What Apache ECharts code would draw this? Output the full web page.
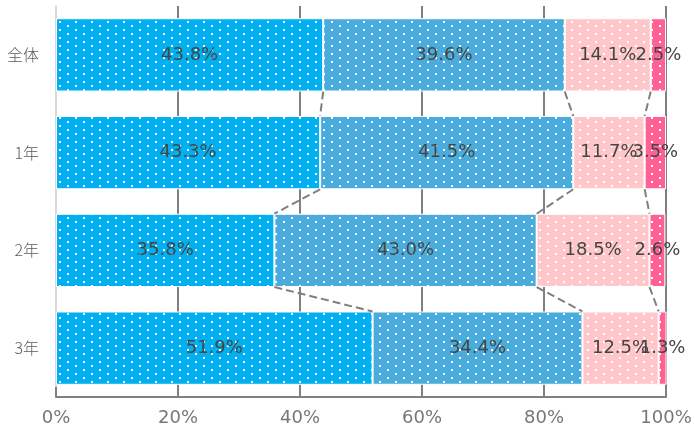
<!DOCTYPE html>
<html><head><meta charset="utf-8">
<script src="https://cdn.jsdelivr.net/npm/echarts@6/dist/echarts.min.js"></script>
<style>html,body{margin:0;padding:0;background:#fff}#c{width:695px;height:428px}</style>
</head><body><div id="c"></div>
<script>
const categories = ['全体', '1年', '2年', '3年'];
const s1 = [43.8, 43.3, 35.8, 51.9];
const s2 = [39.6, 41.5, 43.0, 34.4];
const s3 = [14.1, 11.7, 18.5, 12.5];
const s4 = [2.5, 3.5, 2.6, 1.3];
const xTicks = [0, 20, 40, 60, 80, 100];
const seriesValues = [s1, s2, s3, s4];
const colors = ['#00b0f0', '#4aacdc', '#ffc7c9', '#ff6194'];

function makePattern(color) {
  const c = document.createElement('canvas');
  c.width = 16; c.height = 8;
  const g = c.getContext('2d');
  g.fillStyle = color; g.fillRect(0, 0, 16, 8);
  g.fillStyle = '#ffffff';
  g.fillRect(3, 1, 2, 2);
  g.fillRect(11, 5, 2, 2);
  return { image: c, repeat: 'repeat' };
}

const cum = categories.map((_, i) => {
  let acc = 0; const out = [];
  for (let k = 0; k < 3; k++) { acc += seriesValues[k][i]; out.push(acc); }
  return out;
});
const connData = [];
for (let i = 0; i < categories.length - 1; i++) {
  for (let k = 0; k < 3; k++) connData.push([cum[i][k], i, cum[i + 1][k]]);
}

const BAR = 0.75;
const chart = echarts.init(document.getElementById('c'));
const barSeries = seriesValues.map((vals, k) => ({
  type: 'bar', stack: 'all', data: vals, barWidth: (BAR * 100) + '%',
  itemStyle: { color: makePattern(colors[k]), borderColor: '#ffffff', borderWidth: 1 },
  label: {
    show: true, position: 'inside', formatter: p => p.value.toFixed(1) + '%',
    color: '#454545', fontSize: 18, fontFamily: 'DejaVu Sans'
  },
  z: 3
}));
chart.setOption({
  animation: false,
  grid: { left: 56, right: 29, top: 6, bottom: 31, containLabel: false },
  xAxis: {
    type: 'value', min: 0, max: 100, interval: 20,
    axisLine: { show: true, lineStyle: { color: '#808080', width: 2 } },
    axisTick: { show: true, inside: true, length: 10, lineStyle: { color: '#808080', width: 2 } },
    splitLine: { show: true, lineStyle: { color: '#808080', width: 2 } },
    axisLabel: { formatter: v => v + '%', color: '#777777', fontSize: 18, fontFamily: 'DejaVu Sans', margin: 12 }
  },
  yAxis: {
    type: 'category', data: categories, inverse: true,
    axisLine: { show: true, lineStyle: { color: '#d9d9d9', width: 2 } },
    axisTick: { show: false },
    axisLabel: { color: '#595959', fontSize: 16, fontFamily: 'Noto Sans CJK JP', fontWeight: 300, margin: 17 }
  },
  series: barSeries.concat([{
    type: 'custom', data: connData, encode: { x: [0, 2], y: 1 }, z: 4, silent: true,
    renderItem: function (params, api) {
      const i = api.value(1);
      const a = api.coord([api.value(0), i]);
      const b = api.coord([api.value(2), i + 1]);
      const h = api.size([0, 1])[1] * BAR / 2;
      return {
        type: 'line',
        shape: { x1: a[0], y1: a[1] + h, x2: b[0], y2: b[1] - h },
        style: { stroke: '#7f7f7f', lineWidth: 2, lineDash: [8, 4] }
      };
    }
  }])
});
</script></body></html>
